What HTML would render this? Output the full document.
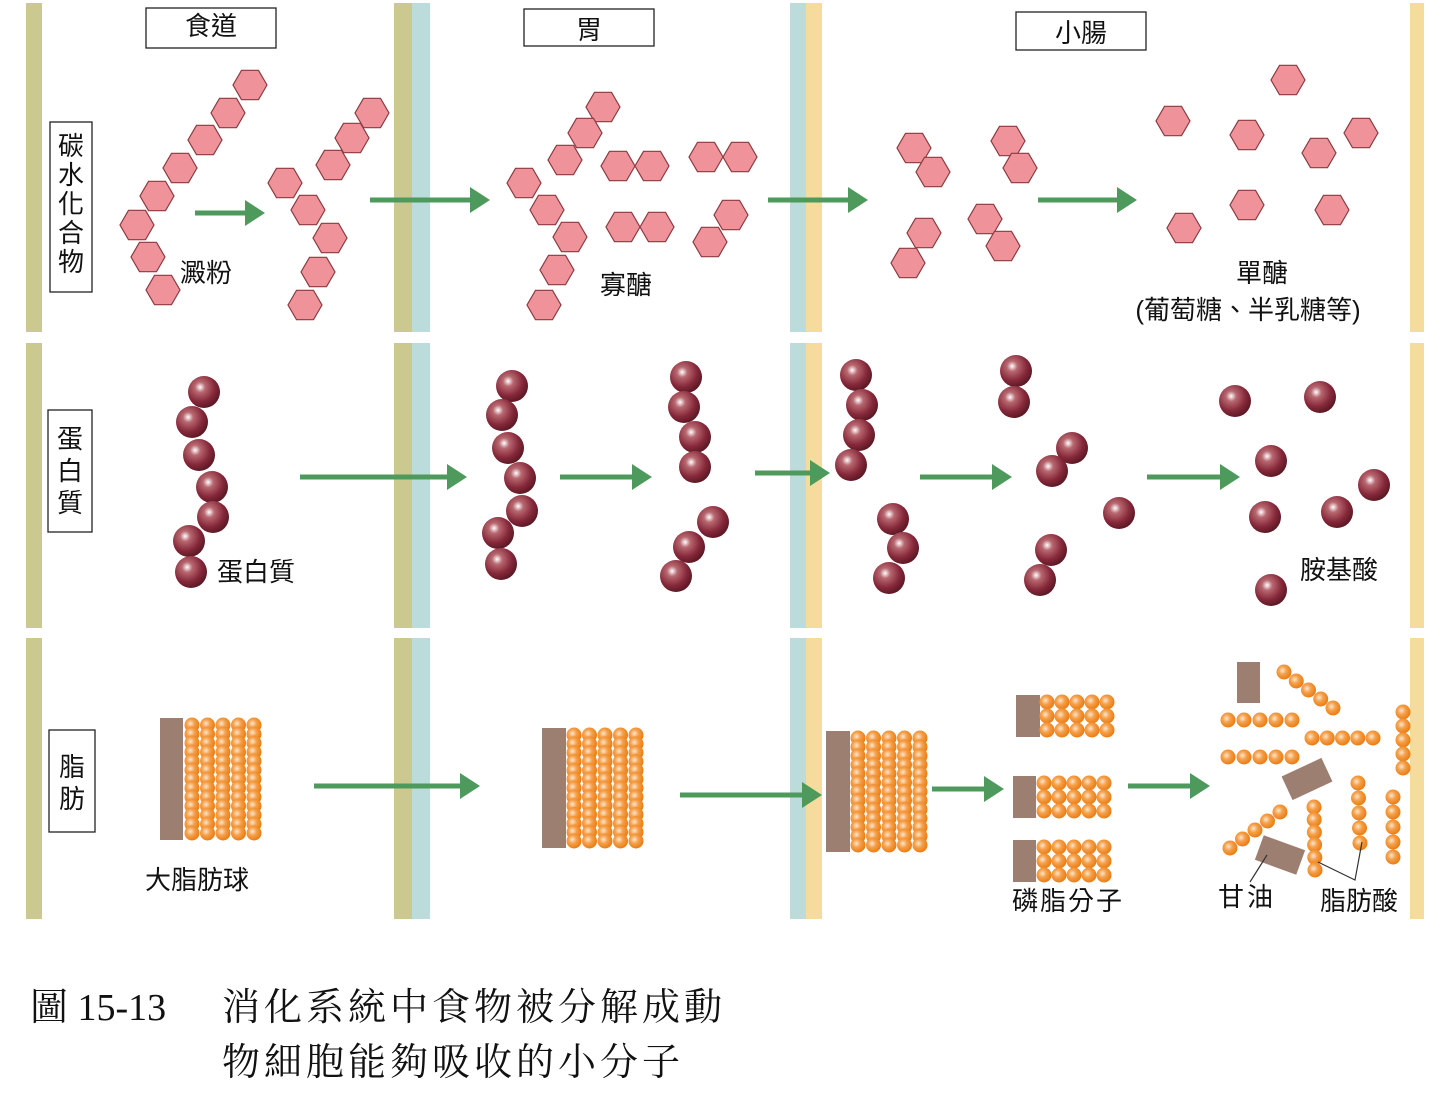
<!DOCTYPE html>
<html><head><meta charset="utf-8">
<style>
html,body{margin:0;padding:0;background:#fff;}
svg{display:block}
text{font-family:"Liberation Sans","Noto Sans CJK TC",sans-serif;fill:#111}
.cap{font-family:"Liberation Serif","Noto Serif CJK SC",serif;font-size:38px;}
</style></head>
<body>
<svg id="s" width="1455" height="1093" viewBox="0 0 1455 1093" xmlns="http://www.w3.org/2000/svg">
<defs>
<radialGradient id="gb" cx="0.38" cy="0.35" r="0.65">
<stop offset="0" stop-color="#fff"/><stop offset="0.25" stop-color="#b86870"/><stop offset="0.7" stop-color="#86283a"/><stop offset="1" stop-color="#5e1a26"/></radialGradient>
<radialGradient id="go" cx="0.4" cy="0.4" r="0.6">
<stop offset="0" stop-color="#fde6cf"/><stop offset="0.45" stop-color="#f5a04a"/><stop offset="1" stop-color="#ea7d14"/></radialGradient>
</defs>
<g id="bars">
<rect x="26" y="3" width="16" height="329" fill="#cbc98f"/>
<rect x="26" y="343" width="16" height="285" fill="#cbc98f"/>
<rect x="26" y="638" width="16" height="281" fill="#cbc98f"/>
<g fill="#cbc98f"><rect x="394" y="3" width="18" height="329"/><rect x="394" y="343" width="18" height="285"/><rect x="394" y="638" width="18" height="281"/></g>
<g fill="#bcdcdc"><rect x="412" y="3" width="18" height="329"/><rect x="412" y="343" width="18" height="285"/><rect x="412" y="638" width="18" height="281"/></g>
<g fill="#bcdcdc"><rect x="790" y="3" width="16" height="329"/><rect x="790" y="343" width="16" height="285"/><rect x="790" y="638" width="16" height="281"/></g>
<g fill="#f5dc9c"><rect x="806" y="3" width="16" height="329"/><rect x="806" y="343" width="16" height="285"/><rect x="806" y="638" width="16" height="281"/></g>
<g fill="#f5dc9c"><rect x="1410" y="3" width="14" height="329"/><rect x="1410" y="343" width="14" height="285"/><rect x="1410" y="638" width="14" height="281"/></g>
</g>
<g fill="#fff" stroke="#222" stroke-width="1.3">
<rect x="146" y="8" width="130" height="40"/>
<rect x="524" y="9" width="130" height="37"/>
<rect x="1016" y="12" width="130" height="38"/>
<rect x="50" y="122" width="42" height="170"/>
<rect x="48" y="410" width="44" height="122"/>
<rect x="49" y="730" width="46" height="102"/>
</g>
<g font-size="26">
<text x="211" y="35" text-anchor="middle">食道</text>
<text x="589" y="39" text-anchor="middle">胃</text>
<text x="1081" y="42" text-anchor="middle">小腸</text>
</g>
<g font-size="26" text-anchor="middle">
<text x="71" y="155">碳</text><text x="71" y="184">水</text><text x="71" y="213">化</text><text x="71" y="242">合</text><text x="71" y="271">物</text>
<text x="70" y="448">蛋</text><text x="70" y="480">白</text><text x="70" y="512">質</text>
<text x="72" y="776">脂</text><text x="72" y="808">肪</text>
</g>
<g font-size="26">
<text x="180" y="282">澱粉</text>
<text x="600" y="294">寡醣</text>
<text x="1262" y="282" text-anchor="middle">單醣</text>
<text x="1248" y="319" text-anchor="middle">(葡萄糖、半乳糖等)</text>
<text x="217" y="581">蛋白質</text>
<text x="1300" y="579">胺基酸</text>
<text x="145" y="889">大脂肪球</text>
<text x="1012" y="910" letter-spacing="2">磷脂分子</text>
<text x="1218" y="906" letter-spacing="3">甘油</text>
<text x="1320" y="910">脂肪酸</text>
</g>
<g id="dyn"></g>
<g stroke="#333" stroke-width="1.2" fill="none">
<path d="M1267 855 L1250 882"/><path d="M1318 862 L1355 880 L1362 842"/>
</g>
<text class="cap" x="30" y="1020" font-size="39">圖 15-13</text>
<text class="cap" x="222" y="1020" letter-spacing="4">消化系統中食物被分解成動</text>
<text class="cap" x="222" y="1075" letter-spacing="4">物細胞能夠吸收的小分子</text>
</svg>
<script>
var NS="http://www.w3.org/2000/svg",g=document.getElementById('dyn'),h="";
function hex(x,y){var r=17,p=[];for(var i=0;i<6;i++){var a=Math.PI/3*i;p.push((x+r*Math.cos(a)).toFixed(1)+","+(y+r*Math.sin(a)).toFixed(1));}
h+='<polygon points="'+p.join(" ")+'" fill="#f0929a" stroke="#8a3a40" stroke-width="1.2"/>';}
function ball(x,y){h+='<circle cx="'+x+'" cy="'+y+'" r="16" fill="url(#gb)"/>';}
function ob(x,y){h+='<circle cx="'+x+'" cy="'+y+'" r="7.5" fill="url(#go)"/>';}
function arrow(x1,x2,y){h+='<line x1="'+x1+'" y1="'+y+'" x2="'+(x2-18)+'" y2="'+y+'" stroke="#4e9a5c" stroke-width="5"/><polygon points="'+(x2-20)+','+(y-13)+' '+x2+','+y+' '+(x2-20)+','+(y+13)+'" fill="#4e9a5c"/>';}
[[250,85],[228,113],[205,140],[180,168],[157,196],[137,225],[148,257],[163,290],
[372,113],[352,138],[333,165],[285,183],[308,210],[330,238],[318,272],[305,305],
[603,107],[585,133],[565,160],[524,183],[547,210],[570,237],[557,270],[544,305],
[618,166],[652,166],[706,157],[740,157],[623,227],[657,227],[731,215],[710,242],
[914,148],[933,172],[1008,141],[1020,168],[924,233],[908,263],[985,219],[1003,246],
[1288,80],[1173,121],[1247,135],[1361,133],[1319,153],[1247,205],[1332,210],[1184,228]].forEach(function(p){hex(p[0],p[1]);});
[[204,392],[192,422],[199,455],[212,487],[213,517],[189,541],[191,572],
[512,386],[502,415],[508,448],[520,478],[522,511],[498,533],[501,564],
[686,377],[684,407],[695,437],[695,467],[713,522],[689,547],[676,576],
[856,375],[862,405],[859,435],[851,465],[893,519],[903,548],[889,578],
[1016,371],[1014,402],[1072,448],[1052,471],[1119,513],[1051,550],[1040,580],
[1235,401],[1320,397],[1271,461],[1374,485],[1265,517],[1337,512],[1271,590]].forEach(function(p){ball(p[0],p[1]);});
arrow(195,265,213);arrow(370,490,200);arrow(768,868,200);arrow(1038,1137,200);
arrow(300,467,477);arrow(560,652,477);arrow(755,830,473);arrow(920,1012,477);arrow(1147,1240,477);
arrow(314,480,786);arrow(680,822,795);arrow(932,1004,789);arrow(1128,1210,786);
function blob(rx,ry,rw,rh,bx,cols,rows,sp){h+='<rect x="'+rx+'" y="'+ry+'" width="'+rw+'" height="'+rh+'" fill="#9d7f72"/>';
for(var r=0;r<rows;r++)for(var c=0;c<cols;c++)ob(bx+c*sp,ry+7+r*((rh-14)/(rows-1)));}
blob(160,718,23,122,192,5,13,15.5);
blob(542,728,24,120,574,5,13,15.5);
blob(826,731,24,121,858,5,13,15.5);
blob(1016,695,24,42,1047,5,3,15);
blob(1013,776,23,42,1044,5,3,15);
blob(1013,840,23,42,1044,5,3,15);
function chain(x1,y1,x2,y2,n){for(var i=0;i<n;i++)ob(x1+(x2-x1)*i/(n-1),y1+(y2-y1)*i/(n-1));}
h+='<rect x="1237" y="662" width="23" height="41" fill="#9d7f72"/>';
h+='<rect x="-22" y="-13" width="44" height="26" fill="#9d7f72" transform="translate(1307 779) rotate(-25)"/>';
h+='<rect x="-22" y="-13" width="44" height="26" fill="#9d7f72" transform="translate(1280 855) rotate(20)"/>';
chain(1284,672,1333,708,5);chain(1228,720,1292,720,5);chain(1312,738,1373,738,5);chain(1228,757,1292,757,5);
chain(1403,712,1403,768,5);chain(1358,783,1360,843,5);chain(1393,797,1393,857,5);chain(1230,848,1280,812,5);chain(1314,807,1315,870,6);
g.innerHTML=h;
</script>
</body></html>
